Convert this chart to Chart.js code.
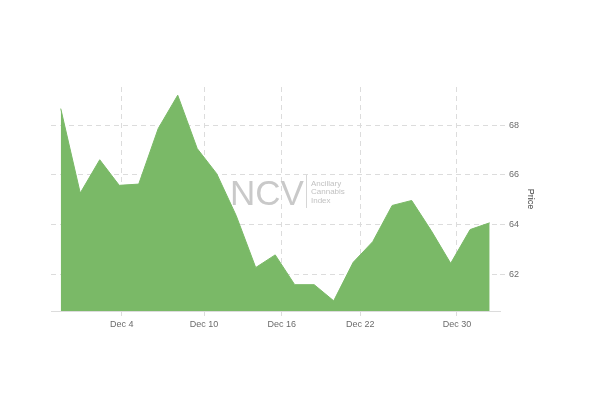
<!DOCTYPE html>
<html lang="en">
<head>
<meta charset="UTF-8">
<title>Ancillary Cannabis Index - Price</title>
<script src="https://cdn.jsdelivr.net/npm/chart.js"></script>
<style>
  html, body { margin: 0; padding: 0; background: #fff; }
  #wrap { width: 600px; height: 402px; }
</style>
</head>
<body>
<div id="wrap"><canvas id="chart" width="600" height="402"></canvas></div>
<script>
// price per session
const prices = [68.67, 65.27, 66.61, 65.58, 65.63, 67.87, 69.21, 67.06, 66.05, 64.36, 62.27, 62.78,
                61.58, 61.58, 60.93, 62.48, 63.31, 64.77, 64.97, 63.76, 62.44, 63.8, 64.07];
// date ticks sit between sessions
const dateTickPos = [3.13, 7.35, 11.33, 15.36, 20.32];
const dateTickLabels = ["Dec 4", "Dec 10", "Dec 16", "Dec 22", "Dec 30"];
const priceTicks = [62, 64, 66, 68];

const grey = "#dcdcdc";
const green = "rgb(122, 185, 103)";

// NCV watermark behind the area
const watermark = {
  id: "watermark",
  beforeDatasetsDraw(chart) {
    const c = chart.ctx;
    c.save();
    c.fillStyle = "#c9c9c9";
    c.font = "35px 'Liberation Sans', Arial, sans-serif";
    c.textBaseline = "alphabetic";
    c.fillText("NCV", 230, 205);
    c.strokeStyle = "#d6d6d6";
    c.lineWidth = 1;
    c.beginPath();
    c.moveTo(306.5, 175);
    c.lineTo(306.5, 208);
    c.stroke();
    c.fillStyle = "#c2c2c2";
    c.font = "8px 'Liberation Sans', Arial, sans-serif";
    c.textBaseline = "middle";
    c.fillText("Ancillary", 311, 183.5);
    c.fillText("Cannabis", 311, 192);
    c.fillText("Index", 311, 200.5);
    c.restore();
  }
};

new Chart(document.getElementById("chart"), {
  type: "line",
  data: {
    datasets: [{
      label: "Price",
      data: prices.map((p, i) => ({ x: i, y: p })),
      backgroundColor: green,
      borderColor: green,
      borderWidth: 1,
      pointRadius: 0,
      tension: 0,
      fill: "start"
    }]
  },
  options: {
    responsive: false,
    animation: false,
    layout: { padding: { left: 51, top: 87, right: 60, bottom: 0 } },
    plugins: { legend: { display: false }, tooltip: { enabled: false } },
    scales: {
      x: {
        type: "linear",
        min: -0.5,
        max: 22.53,
        afterBuildTicks(scale) {
          scale.ticks = dateTickPos.map(v => ({ value: v }));
        },
        afterFit(scale) { scale.height = 91; },
        ticks: {
          autoSkip: false,
          maxRotation: 0,
          padding: 3,
          color: "#6b6b6b",
          font: { size: 9, family: "'Liberation Sans', Arial, sans-serif" },
          callback(value) {
            const i = dateTickPos.indexOf(value);
            return i >= 0 ? dateTickLabels[i] : "";
          }
        },
        grid: {
          color: grey,
          tickLength: 5,
          drawOnChartArea: true
        },
        border: { display: true, color: grey, dash: [5, 4] }
      },
      y: {
        position: "right",
        min: 60.52,
        max: 69.54,
        afterBuildTicks(scale) {
          scale.ticks = priceTicks.map(v => ({ value: v }));
        },
        afterFit(scale) { scale.width = 40; },
        ticks: {
          padding: 4,
          color: "#6b6b6b",
          font: { size: 9, family: "'Liberation Sans', Arial, sans-serif" }
        },
        grid: { color: grey, tickLength: 5 },
        border: { display: false, dash: [5, 4] },
        title: {
          display: true,
          text: "Price",
          color: "#444",
          font: { size: 9, family: "'Liberation Sans', Arial, sans-serif" },
          padding: { top: 4, bottom: 4 }
        }
      }
    }
  },
  plugins: [
    watermark,
    {
      // solid baseline under the dashed grid
      id: "baseline",
      afterDatasetsDraw(chart) {
        const a = chart.chartArea, c = chart.ctx;
        c.save();
        c.strokeStyle = grey;
        c.lineWidth = 1;
        c.beginPath();
        c.moveTo(a.left, a.bottom + 0.5);
        c.lineTo(a.right, a.bottom + 0.5);
        c.stroke();
        c.restore();
      }
    }
  ]
});
</script>
</body>
</html>
